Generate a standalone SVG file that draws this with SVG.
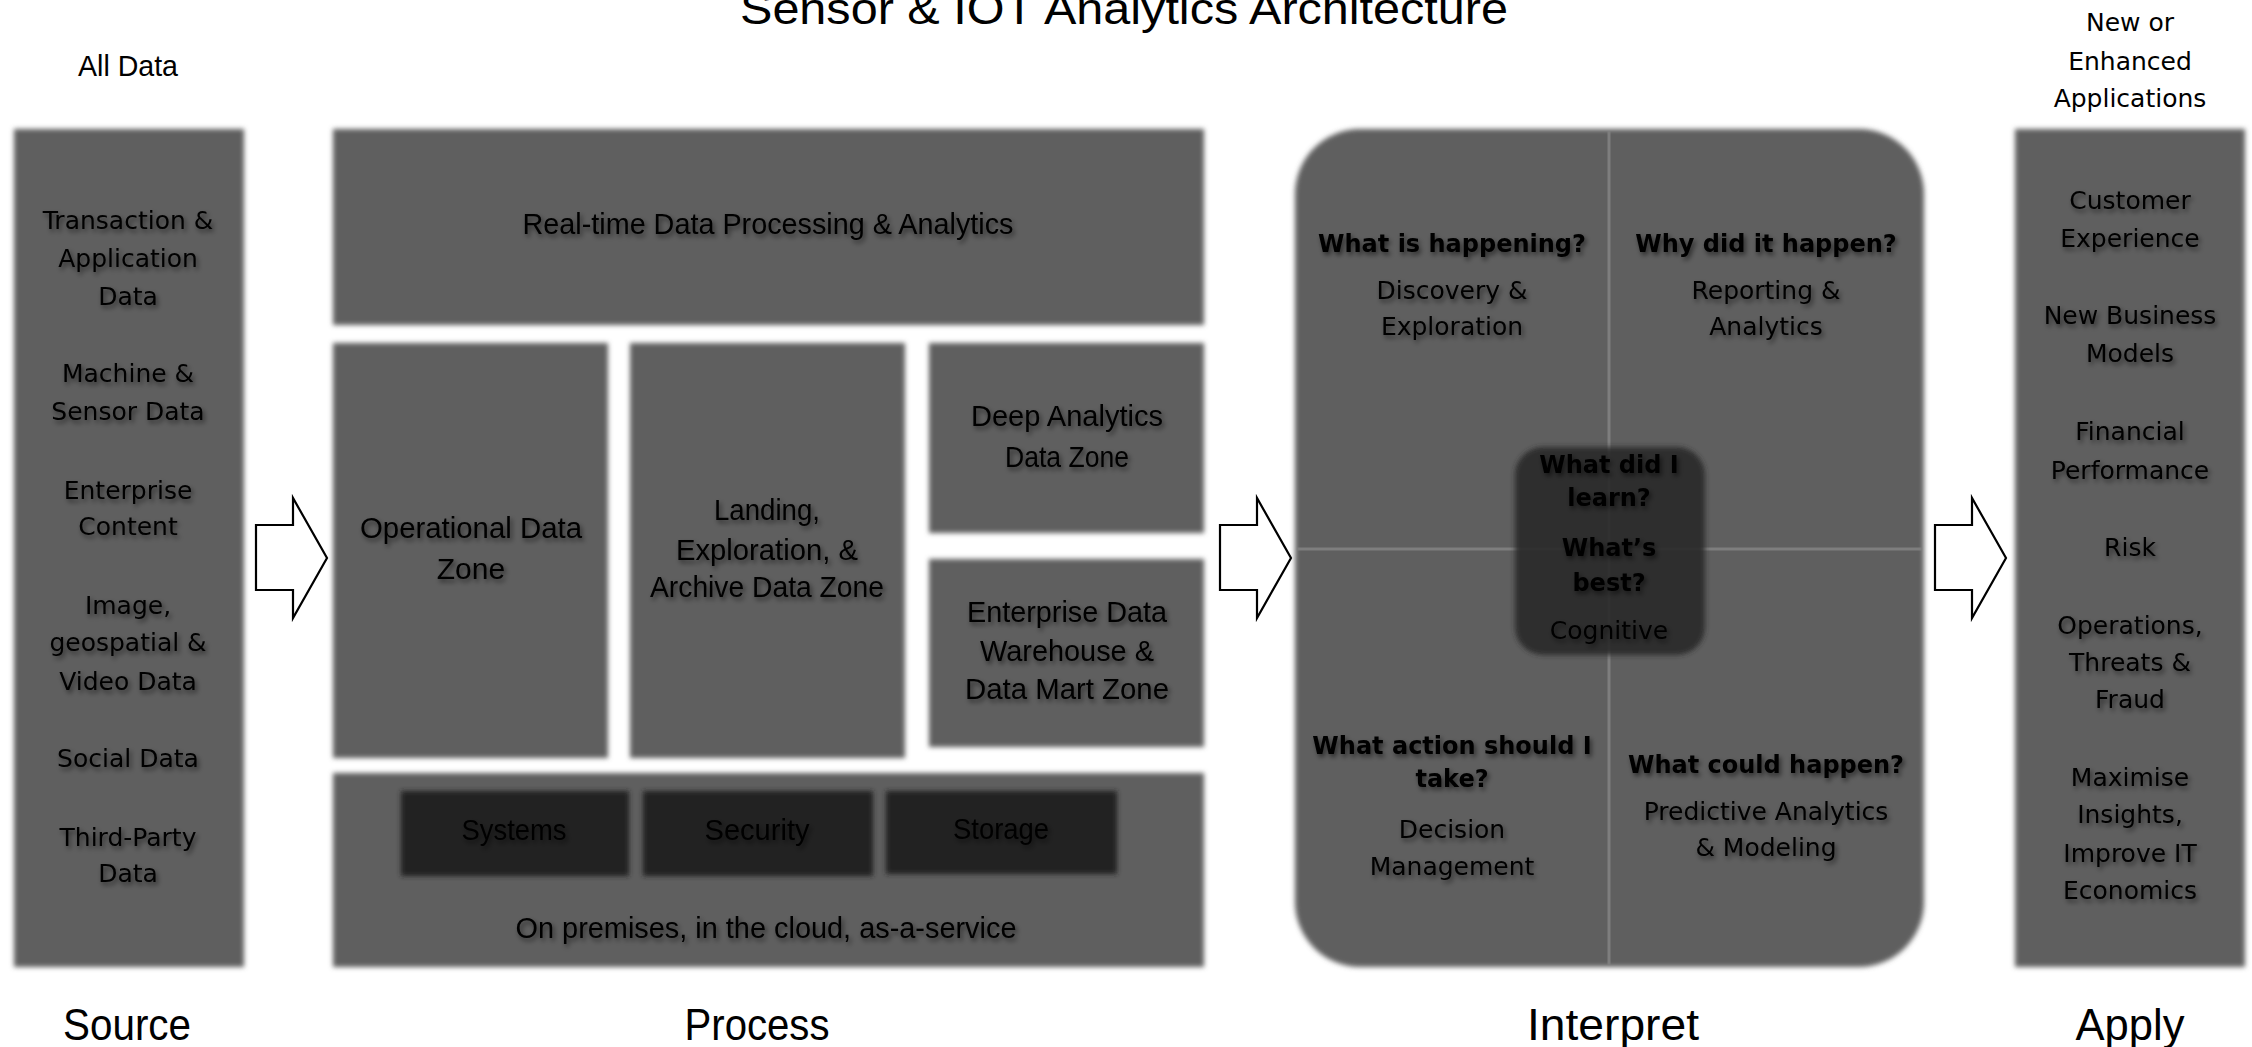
<svg xmlns="http://www.w3.org/2000/svg" width="2252" height="1047" viewBox="0 0 2252 1047">
  <defs>
    <filter id="soft" x="-5%" y="-5%" width="110%" height="110%">
      <feGaussianBlur stdDeviation="2.5"/>
    </filter>
    <filter id="shadow" x="-10%" y="-30%" width="120%" height="160%">
      <feDropShadow dx="2" dy="3" stdDeviation="2.5" flood-color="#000" flood-opacity="0.55"/>
    </filter>
  </defs>
  <style>
    .panel { fill: #5f5f5f; filter: url(#soft); }
    .inner { fill: #232323; filter: url(#soft); }
    .core { fill: #2a2a2a; fill-opacity: 0.9; filter: url(#soft); }
    .divider { stroke: #7e7e7e; stroke-width: 3; }
    .arrow { fill: #fff; stroke: #000; stroke-width: 2.2; }
    .wide { font-family: "DejaVu Sans", Verdana, sans-serif; font-size: 25px; fill: #000; text-anchor: middle; }
    .bold { font-family: "DejaVu Sans", Verdana, sans-serif; font-size: 24px; font-weight: bold; fill: #000; text-anchor: middle; }
    .narrow { font-family: "Liberation Sans", Arial, sans-serif; font-size: 30px; fill: #000; text-anchor: middle; }
    .label { font-family: "Liberation Sans", Arial, sans-serif; font-size: 44px; fill: #000; text-anchor: middle; }
    .sh { filter: url(#shadow); }
  </style>

  <!-- heading and column captions -->
  <g id="heading">
    <text class="label" x="1124" y="24" font-size="50" textLength="768" lengthAdjust="spacingAndGlyphs">Sensor &amp; IOT Analytics Architecture</text>
    <text class="narrow" x="128" y="76" font-size="28" textLength="100" lengthAdjust="spacingAndGlyphs">All Data</text>
    <text class="wide" x="2130" y="31">New or</text>
    <text class="wide" x="2130" y="70">Enhanced</text>
    <text class="wide" x="2130" y="107">Applications</text>
  </g>

  <!-- Source column -->
  <g id="source">
    <rect class="panel" x="14" y="129" width="230" height="838"/>
    <g class="wide sh">
      <text x="128" y="229">Transaction &amp;</text>
      <text x="128" y="267">Application</text>
      <text x="128" y="305">Data</text>
      <text x="128" y="382">Machine &amp;</text>
      <text x="128" y="420">Sensor Data</text>
      <text x="128" y="499">Enterprise</text>
      <text x="128" y="535">Content</text>
      <text x="128" y="614">Image,</text>
      <text x="128" y="651">geospatial &amp;</text>
      <text x="128" y="690">Video Data</text>
      <text x="128" y="767">Social Data</text>
      <text x="128" y="846">Third-Party</text>
      <text x="128" y="882">Data</text>
    </g>
  </g>

  <!-- Process: real-time layer -->
  <g id="realtime">
    <rect class="panel" x="333" y="129" width="871" height="196"/>
    <text class="narrow sh" x="768" y="234" textLength="491" lengthAdjust="spacingAndGlyphs">Real-time Data Processing &amp; Analytics</text>
  </g>

  <g id="operational">
    <rect class="panel" x="333" y="343" width="275" height="415"/>
    <g class="narrow sh">
      <text x="471" y="538" textLength="222" lengthAdjust="spacingAndGlyphs">Operational Data</text>
      <text x="471" y="579">Zone</text>
    </g>
  </g>

  <g id="landing">
    <rect class="panel" x="630" y="343" width="275" height="415"/>
    <g class="narrow sh">
      <text x="767" y="520" textLength="106" lengthAdjust="spacingAndGlyphs">Landing,</text>
      <text x="767" y="560" textLength="182" lengthAdjust="spacingAndGlyphs">Exploration, &amp;</text>
      <text x="767" y="597" textLength="234" lengthAdjust="spacingAndGlyphs">Archive Data Zone</text>
    </g>
  </g>

  <g id="deep-analytics">
    <rect class="panel" x="929" y="343" width="275" height="190"/>
    <g class="narrow sh">
      <text x="1067" y="426" textLength="192" lengthAdjust="spacingAndGlyphs">Deep Analytics</text>
      <text x="1067" y="467" textLength="124" lengthAdjust="spacingAndGlyphs">Data Zone</text>
    </g>
  </g>

  <g id="warehouse">
    <rect class="panel" x="929" y="559" width="275" height="188"/>
    <g class="narrow sh">
      <text x="1067" y="622" textLength="200" lengthAdjust="spacingAndGlyphs">Enterprise Data</text>
      <text x="1067" y="661" textLength="174" lengthAdjust="spacingAndGlyphs">Warehouse &amp;</text>
      <text x="1067" y="699" textLength="204" lengthAdjust="spacingAndGlyphs">Data Mart Zone</text>
    </g>
  </g>

  <!-- Process: infrastructure layer -->
  <g id="infrastructure">
    <rect class="panel" x="333" y="773" width="871" height="194"/>
    <text class="narrow sh" x="766" y="938" textLength="501" lengthAdjust="spacingAndGlyphs">On premises, in the cloud, as-a-service</text>
  </g>
  <g id="systems">
    <rect class="inner" x="401" y="791" width="228" height="85"/>
    <text class="narrow sh" x="514" y="840" textLength="105" lengthAdjust="spacingAndGlyphs">Systems</text>
  </g>
  <g id="security">
    <rect class="inner" x="643" y="791" width="230" height="85"/>
    <text class="narrow sh" x="757" y="840" textLength="105" lengthAdjust="spacingAndGlyphs">Security</text>
  </g>
  <g id="storage">
    <rect class="inner" x="886" y="791" width="231" height="83"/>
    <text class="narrow sh" x="1001" y="839" textLength="96" lengthAdjust="spacingAndGlyphs">Storage</text>
  </g>

  <!-- Interpret quadrant -->
  <g id="interpret">
    <rect class="panel" x="1295" y="129" width="629" height="838" rx="65" ry="65"/>
    <line class="divider" x1="1609" y1="131" x2="1609" y2="965"/>
    <line class="divider" x1="1297" y1="549" x2="1922" y2="549"/>
  </g>
  <g id="discovery">
    <text class="bold sh" x="1452" y="252">What is happening?</text>
    <g class="wide sh">
      <text x="1452" y="299">Discovery &amp;</text>
      <text x="1452" y="335">Exploration</text>
    </g>
  </g>
  <g id="reporting">
    <text class="bold sh" x="1766" y="252">Why did it happen?</text>
    <g class="wide sh">
      <text x="1766" y="299">Reporting &amp;</text>
      <text x="1766" y="335">Analytics</text>
    </g>
  </g>
  <g id="decision">
    <g class="bold sh">
      <text x="1452" y="754">What action should I</text>
      <text x="1452" y="787">take?</text>
    </g>
    <g class="wide sh">
      <text x="1452" y="838">Decision</text>
      <text x="1452" y="875">Management</text>
    </g>
  </g>
  <g id="predictive">
    <text class="bold sh" x="1766" y="773">What could happen?</text>
    <g class="wide sh">
      <text x="1766" y="820">Predictive Analytics</text>
      <text x="1766" y="856">&amp; Modeling</text>
    </g>
  </g>
  <g id="cognitive">
    <rect class="core" x="1515" y="447" width="190" height="208" rx="28" ry="28"/>
    <g class="bold sh">
      <text x="1609" y="473">What did I</text>
      <text x="1609" y="506">learn?</text>
      <text x="1609" y="556">What’s</text>
      <text x="1609" y="591">best?</text>
    </g>
    <text class="wide sh" x="1609" y="639">Cognitive</text>
  </g>

  <!-- Apply column -->
  <g id="apply">
    <rect class="panel" x="2015" y="129" width="230" height="838"/>
    <g class="wide sh">
      <text x="2130" y="209">Customer</text>
      <text x="2130" y="247">Experience</text>
      <text x="2130" y="324">New Business</text>
      <text x="2130" y="362">Models</text>
      <text x="2130" y="440">Financial</text>
      <text x="2130" y="479">Performance</text>
      <text x="2130" y="556">Risk</text>
      <text x="2130" y="634">Operations,</text>
      <text x="2130" y="671">Threats &amp;</text>
      <text x="2130" y="708">Fraud</text>
      <text x="2130" y="786">Maximise</text>
      <text x="2130" y="823">Insights,</text>
      <text x="2130" y="862">Improve IT</text>
      <text x="2130" y="899">Economics</text>
    </g>
  </g>

  <!-- flow arrows between stages -->
  <g id="connectors">
    <path class="arrow" d="M256 525 H293 V498 L327 558 L293 618 V590 H256 Z"/>
    <path class="arrow" d="M1220 525 H1257 V498 L1291 558 L1257 618 V590 H1220 Z"/>
    <path class="arrow" d="M1935 525 H1972 V498 L2006 558 L1972 618 V590 H1935 Z"/>
  </g>

  <!-- stage captions -->
  <g id="stages">
    <text class="label" x="127" y="1040" textLength="128" lengthAdjust="spacingAndGlyphs">Source</text>
    <text class="label" x="757" y="1040" textLength="145" lengthAdjust="spacingAndGlyphs">Process</text>
    <text class="label" x="1613" y="1040" textLength="172" lengthAdjust="spacingAndGlyphs">Interpret</text>
    <text class="label" x="2130" y="1040" textLength="109" lengthAdjust="spacingAndGlyphs">Apply</text>
  </g>
</svg>
